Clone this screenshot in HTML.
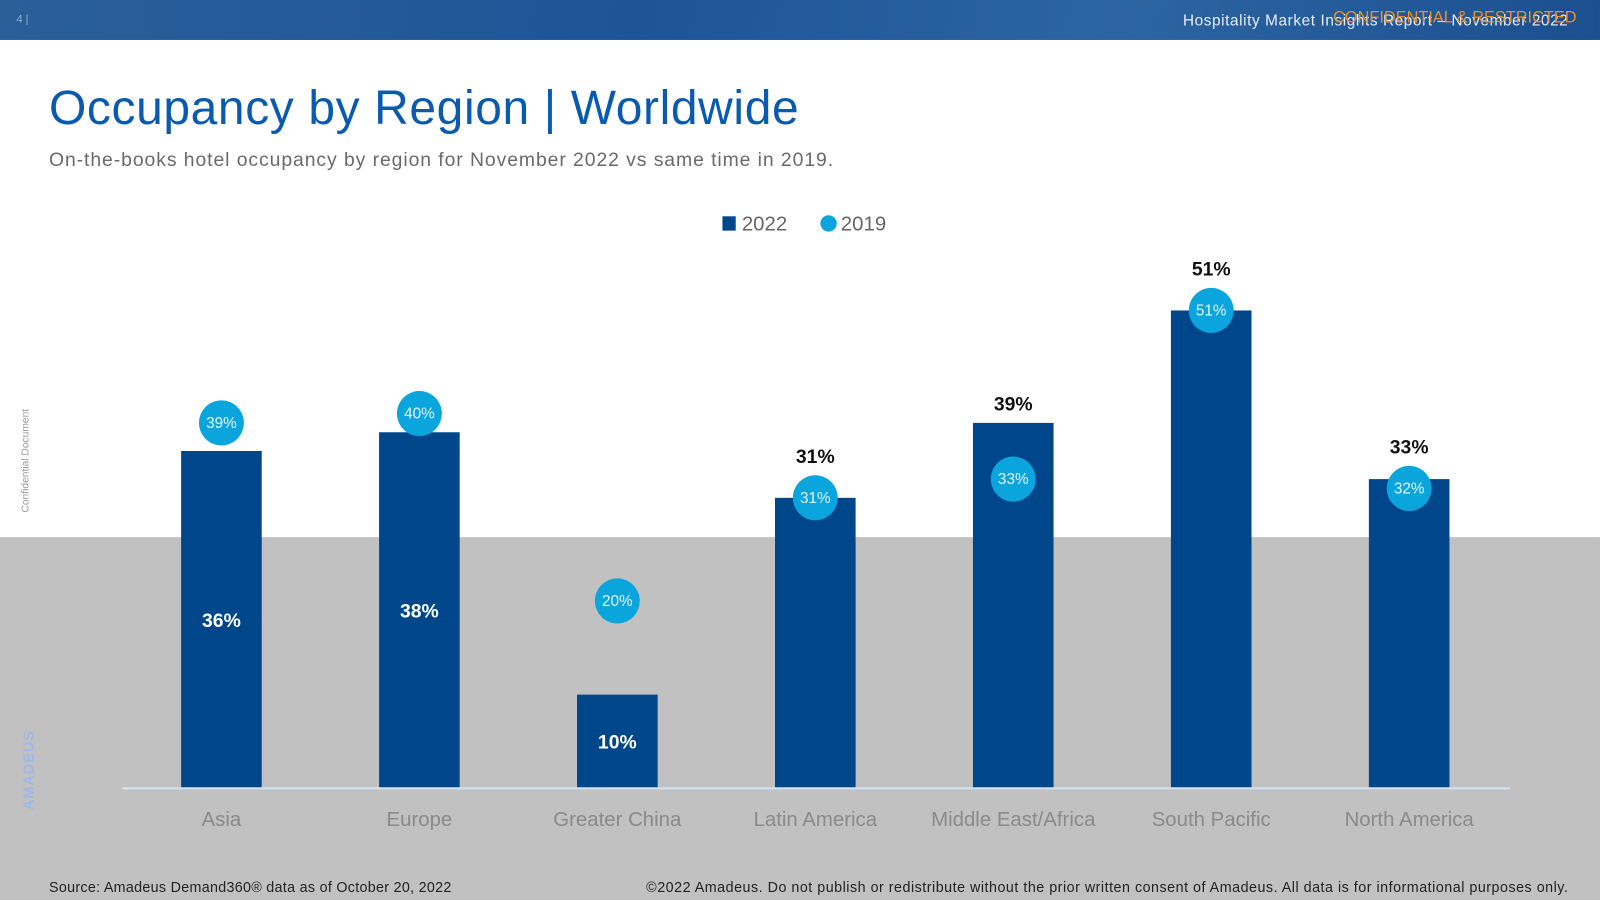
<!DOCTYPE html>
<html><head><meta charset="utf-8"><style>
html,body{margin:0;padding:0;width:1600px;height:900px;overflow:hidden;background:#fff}
#s{position:absolute;left:0;top:0;width:1568px;height:878px;transform-origin:0 0;transform:scale(1.0204,1.0251);font-family:"Liberation Sans",sans-serif}
.t{position:absolute;white-space:nowrap}
</style></head><body>
<div id="s">
<div style="position:absolute;left:0;top:0;width:1568px;height:39px;background:linear-gradient(100deg,#2a5f9a,#1d5597 40%,#2c65a3 70%,#1b4f8f)"></div>
<div class="t" style="left:16px;top:13px;font-size:11px;color:#8fb0d6">4 |</div>
<div class="t" style="right:31px;top:12px;font-size:15px;color:#e8eef6;letter-spacing:0.6px">Hospitality Market Insights Report – November 2022</div>
<div class="t" style="right:23px;top:9px;font-size:16px;color:#e8902a">CONFIDENTIAL &amp; RESTRICTED</div>
<div style="position:absolute;left:0;top:524px;width:1568px;height:354px;background:#c1c1c1"></div>
<div class="t" style="left:48px;top:77px;font-size:47px;color:#0a5aae;letter-spacing:0.6px">Occupancy by Region | Worldwide</div>
<div class="t" style="left:48px;top:146px;font-size:19px;color:#6a6a6a;letter-spacing:0.9px">On-the-books hotel occupancy by region for November 2022 vs same time in 2019.</div>
<div class="t" style="left:20px;top:500px;font-size:10px;color:#999;transform:rotate(-90deg);transform-origin:0 0">Confidential Document</div>
<div class="t" style="left:20px;top:790px;font-size:14px;font-weight:bold;color:#9fb8e8;transform:rotate(-90deg);transform-origin:0 0;letter-spacing:1px">AMADEUS</div>
<svg id="c" width="1568" height="878" style="position:absolute;left:0;top:0"></svg>
<div class="t" style="left:48px;top:857px;font-size:14px;color:#222;letter-spacing:0.3px">Source: Amadeus Demand360® data as of October 20, 2022</div>
<div class="t" style="right:31px;top:857px;font-size:14px;color:#222;letter-spacing:0.5px">©2022 Amadeus. Do not publish or redistribute without the prior written consent of Amadeus. All data is for informational purposes only.</div>
</div>
<script>
const categories=["Asia","Europe","Greater China","Latin America","Middle East/Africa","South Pacific","North America"];
const values2022=[36,38,10,31,39,51,33];
const values2019=[39,40,20,31,33,51,32];
const insideLabel=[true,true,true,false,false,false,false];
const svg=document.getElementById('c');
const NS='http://www.w3.org/2000/svg';
const base=769,pxPer=9.14,R=22;
const y=v=>base-v*pxPer;
const x=i=>217+i*194;
function mk(tag,attrs,txt){const e=document.createElementNS(NS,tag);for(const k in attrs)e.setAttribute(k,attrs[k]);if(txt!==undefined)e.textContent=txt;svg.appendChild(e);return e;}
let e=mk('rect',{x:708,y:211,width:13,height:14,fill:'#00468b'});


e=mk('text',{x:727,y:225,'font-size':20,fill:'#666','font-family':'Liberation Sans'},'2022');


e=mk('circle',{cx:812,cy:218,r:8,fill:'#0aa5dd'});


e=mk('text',{x:824,y:225,'font-size':20,fill:'#666','font-family':'Liberation Sans'},'2019');


categories.forEach((c,i)=>{
  const cx=x(i),top=y(values2022[i]);
  const cy=y(values2019[i]);
  let b=mk('rect',{x:cx-39.5,y:top,width:79,height:base-top,fill:'#00468b'});
  
  
  let l;
  if(insideLabel[i]) l=mk('text',{x:cx,y:(top+base)/2+7,'text-anchor':'middle','font-size':19,'font-weight':'bold',fill:'#fff','font-family':'Liberation Sans'},values2022[i]+'%');
  else l=mk('text',{x:cx,y:Math.min(top,cy-R)-12,'text-anchor':'middle','font-size':19,'font-weight':'bold',fill:'#111','font-family':'Liberation Sans'},values2022[i]+'%');
  
  
  let p=mk('circle',{cx:cx,cy:cy,r:R,fill:'#0aa5dd'});
  
  
  let pl=mk('text',{x:cx,y:cy+5,'text-anchor':'middle','font-size':15,fill:'#e8f6fc','font-family':'Liberation Sans'},values2019[i]+'%');
  
  
  let cl=mk('text',{x:cx,y:806,'text-anchor':'middle','font-size':20,fill:'#8a8a8a','font-family':'Liberation Sans'},c);
  
  
});
e=mk('line',{x1:120,x2:1480,y1:base,y2:base,stroke:'#cfe3f5','stroke-width':2});


</script>
</body></html>
